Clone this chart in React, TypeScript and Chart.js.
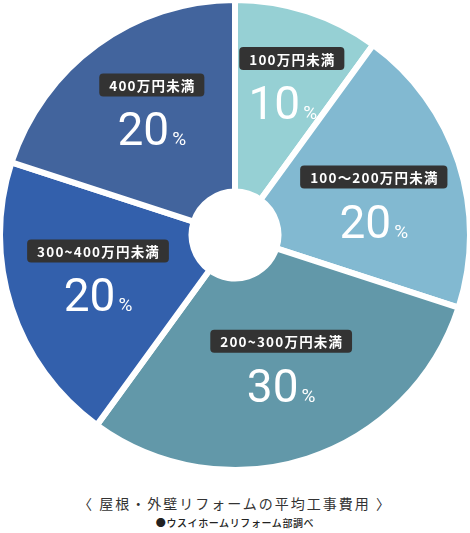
import React, { useEffect, useRef } from "react";
import { Chart, registerables } from "chart.js";

Chart.register(...registerables);

const categories = ["100万円未満", "100〜200万円未満", "200~300万円未満", "300~400万円未満", "400万円未満"];
const shares = [10, 20, 30, 20, 20];
const sliceColors = ["#96d0d4", "#82b9d1", "#6298a9", "#3360ac", "#42649d"];
const titleText = "〈 屋根・外壁リフォームの平均工事費用 〉";
const sourceText = "●ウスイホームリフォーム部調べ";

const sliceLabels = {
  id: "sliceLabels",
  afterDatasetsDraw(chart: any, _args: any, opts: any) {
    const ctx = chart.ctx as CanvasRenderingContext2D;
    const meta = chart.getDatasetMeta(0);
    meta.data.forEach((arc: any, i: number) => {
      const p = arc.getProps(["x", "y", "startAngle", "endAngle", "outerRadius"], true);
      const mid = (p.startAngle + p.endAngle) / 2 + (opts.angleShifts[i] * Math.PI) / 180;
      const r = p.outerRadius * opts.radii[i];
      const cx = p.x + Math.cos(mid) * r;
      const cy = p.y + Math.sin(mid) * r;
      const text = String(chart.data.labels[i]);
      const value = String(chart.data.datasets[0].data[i]);

      ctx.save();
      // label box
      ctx.font = "700 13.5px 'Noto Sans CJK JP'";
      (ctx as any).letterSpacing = "1.2px";
      const tw = ctx.measureText(text).width - 1.2;
      const bw = tw + 20;
      const bh = 23;
      const boxCy = cy - 22;
      ctx.fillStyle = "#333333";
      ctx.beginPath();
      (ctx as any).roundRect(cx - bw / 2, boxCy - bh / 2, bw, bh, 4);
      ctx.fill();
      ctx.fillStyle = "#ffffff";
      ctx.textAlign = "left";
      ctx.textBaseline = "middle";
      ctx.fillText(text, cx - bw / 2 + 10, boxCy + 1);

      // big number
      (ctx as any).letterSpacing = "0px";
      ctx.font = "400 46px Roboto";
      const w1 = ctx.measureText(value).width;
      ctx.font = "400 19px Roboto";
      const w2 = ctx.measureText("%").width;
      const gap = 3;
      const start = cx + opts.numberShifts[i] - (w1 + gap + w2) / 2;
      const base = cy + 22 + 16.5;
      ctx.textBaseline = "alphabetic";
      ctx.font = "400 46px Roboto";
      ctx.fillText(value, start, base);
      ctx.font = "400 19px Roboto";
      ctx.fillText("%", start + w1 + gap, base);
      ctx.restore();
    });
  },
};

export default function App() {
  const canvasRef = useRef<HTMLCanvasElement | null>(null);

  useEffect(() => {
    document.body.style.margin = "0";
    const canvas = canvasRef.current;
    if (!canvas) return;
    const chart = new Chart(canvas, {
      type: "doughnut",
      data: {
        labels: categories,
        datasets: [
          {
            data: shares,
            backgroundColor: sliceColors,
            borderColor: "#ffffff",
            borderWidth: 6,
            hoverOffset: 0,
          },
        ],
      },
      options: {
        animation: false,
        responsive: false,
        events: [],
        radius: 235,
        cutout: "18.5%",
        layout: { padding: 0 },
        plugins: {
          legend: { display: false },
          tooltip: { enabled: false },
          sliceLabels: {
            radii: [0.7, 0.61, 0.58, 0.605, 0.65],
            angleShifts: [2.2, 3.5, -1.8, 2.5, 3],
            numberShifts: [-9, 0, 0, 0, 0],
          },
        } as any,
      } as any,
      plugins: [sliceLabels as any],
    });
    return () => chart.destroy();
  }, []);

  return (
    <div style={{ width: 470, background: "#fff" }}>
      <canvas ref={canvasRef} width={470} height={470} style={{ display: "block", width: 470, height: 470 }} />
      <div
        style={{
          marginTop: 23,
          height: 20,
          lineHeight: "20px",
          textAlign: "center",
          fontFamily: "'Noto Sans CJK JP', sans-serif",
          fontSize: 14,
          letterSpacing: "2px",
          color: "#333",
        }}
      >
        {titleText}
      </div>
      <div
        style={{
          marginTop: 3,
          height: 14,
          lineHeight: "14px",
          textAlign: "center",
          fontFamily: "'Noto Sans CJK JP', sans-serif",
          fontSize: 10,
          fontWeight: 500,
          letterSpacing: "0.6px",
          color: "#222",
        }}
      >
        {sourceText}
      </div>
    </div>
  );
}
